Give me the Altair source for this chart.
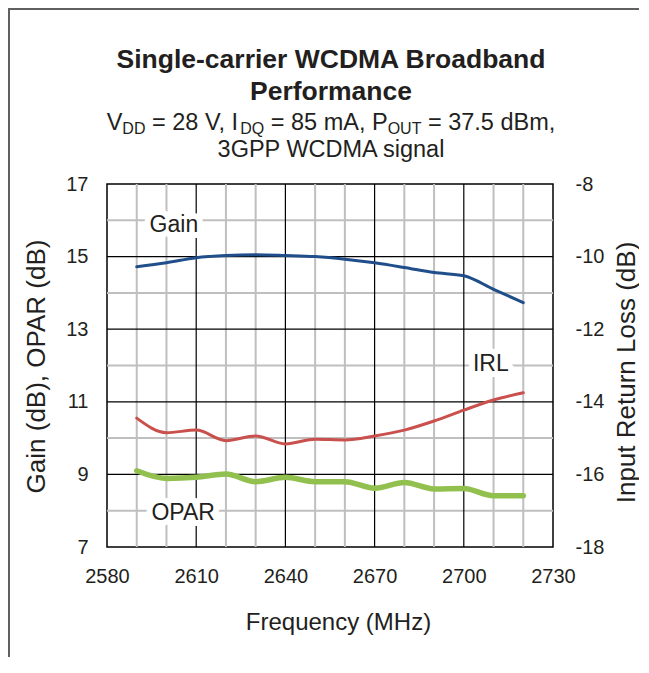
import altair as alt
import pandas as pd

# ---------------- data ----------------
freq = [2590, 2600, 2610, 2620, 2630, 2640, 2650, 2660, 2670, 2680, 2690, 2700, 2710, 2720]
gain = [14.72, 14.83, 14.97, 15.03, 15.05, 15.03, 15.00, 14.93, 14.83, 14.70, 14.56, 14.47, 14.10, 13.73]
opar = [9.10, 8.89, 8.92, 9.01, 8.80, 8.92, 8.80, 8.80, 8.62, 8.78, 8.60, 8.61, 8.41, 8.41]
irl = [-14.45, -14.85, -14.78, -15.07, -14.94, -15.16, -15.03, -15.05, -14.94, -14.78, -14.53, -14.23, -13.95, -13.75]

x_ticks = [2580, 2610, 2640, 2670, 2700, 2730]
x_major_grid = [2610, 2640, 2670, 2700]
x_minor_grid = [2590, 2600, 2620, 2630, 2650, 2660, 2680, 2690, 2710, 2720]
yl_ticks = [7, 9, 11, 13, 15, 17]
yl_major_grid = [9, 11, 13, 15]
yl_minor_grid = [8, 10, 12, 14, 16]
yr_ticks = [-18, -16, -14, -12, -10, -8]

label_text = ["Gain", "IRL", "OPAR"]
label_x = [2602.5, 2709.1, 2605.6]
label_y = [15.88, 12.04, 7.94]

title_lines = ["Single-carrier WCDMA Broadband", "Performance"]
subtitle_parts = [("V", False), ("DD", True), (" = 28 V, I", False), ("DQ", True),
                  (" = 85 mA, P", False), ("OUT", True), (" = 37.5 dBm,", False)]
subtitle_line2 = "3GPP WCDMA signal"

x_title = "Frequency (MHz)"
yl_title = "Gain (dB), OPAR (dB)"
yr_title = "Input Return Loss (dB)"

# ---------------- layout / style ----------------
W, H = 446, 363
PAD = {"left": 99, "top": 176, "right": 86, "bottom": 110}
FONT = "Liberation Sans"
INK = "#231f20"
GRAY = "#bfbfbf"
C_GAIN = "#1f4e8a"
C_IRL = "#c9504c"
C_OPAR = "#92c04e"

AW = {"V": 667, "D": 722, "Q": 778, "O": 778, "U": 722, "T": 611, "I": 278, "P": 667,
      " ": 278, "=": 584, ",": 278, ".": 278, "m": 833, "A": 667, "d": 556, "B": 667}


def text_w(s, size):
    return sum(AW.get(c, 556) for c in s) * size / 1000.0


x_scale = alt.Scale(domain=[2580, 2730], nice=False, zero=False)
yl_scale = alt.Scale(domain=[7, 17], nice=False, zero=False)
yr_scale = alt.Scale(domain=[-18, -8], nice=False, zero=False)

x_axis = alt.Axis(values=x_ticks, grid=False, ticks=False, domain=False,
                  labelFontSize=20, labelPadding=19, labelFlush=False, labelOverlap=False,
                  labelExpr="datum.value + ''",
                  title=x_title, titleFontSize=24, titleFontWeight="normal",
                  titleX=231, titleY=82, titleAlign="center", titleBaseline="alphabetic")
yl_axis = alt.Axis(values=yl_ticks, grid=False, ticks=False, domain=False,
                   labelFontSize=20, labelPadding=19, labelFlush=False, labelOverlap=False,
                   labelExpr="datum.value + ''",
                   title=yl_title, titleFontSize=26, titleFontWeight="normal", titleAngle=270,
                   titleX=-63, titleY=182, titleAlign="center", titleBaseline="alphabetic")
yr_axis = alt.Axis(orient="right", values=yr_ticks, grid=False, ticks=False, domain=False,
                   labelFontSize=20, labelPadding=22, labelAlign="left", labelFlush=False,
                   labelOverlap=False, labelExpr="datum.value + ''",
                   title=yr_title, titleFontSize=26, titleFontWeight="normal", titleAngle=270,
                   titleX=81, titleY=188, titleAlign="center", titleBaseline="alphabetic")

X = lambda f: alt.X(f, scale=x_scale, axis=x_axis)
YL = lambda f: alt.Y(f, scale=yl_scale, axis=yl_axis)
YR = lambda f: alt.Y(f, scale=yr_scale, axis=yr_axis)

one = alt.Data(values=[{"k": 0}])


def txt(s, x, y, size, weight="normal", align="left"):
    return alt.Chart(one).mark_text(text=s, fontSize=size, fontWeight=weight, align=align,
                                    baseline="alphabetic", font=FONT, color=INK).encode(
        x=alt.value(x), y=alt.value(y))


# ---------------- grid ----------------
vminor = alt.Chart(pd.DataFrame({"f": x_minor_grid})).mark_rule(color=GRAY, strokeWidth=2).encode(x=X("f:Q"))
hminor = alt.Chart(pd.DataFrame({"v": yl_minor_grid})).mark_rule(color=GRAY, strokeWidth=2).encode(y=YL("v:Q"))
vmajor = alt.Chart(pd.DataFrame({"f": x_major_grid})).mark_rule(color="#000000", strokeWidth=1.2).encode(x=X("f:Q"))
hmajor = alt.Chart(pd.DataFrame({"v": yl_major_grid})).mark_rule(color="#000000", strokeWidth=1.2).encode(y=YL("v:Q"))

# ---------------- labels with white halo ----------------
lab_df = pd.DataFrame({"lx": label_x, "ly": label_y, "lt": label_text})
halo = alt.Chart(lab_df).mark_text(fontSize=23, font=FONT, align="center", baseline="middle",
                                   fill="white", stroke="white", strokeWidth=12,
                                   strokeJoin="round").encode(x=X("lx:Q"), y=YL("ly:Q"), text="lt:N")
labels = alt.Chart(lab_df).mark_text(fontSize=23, font=FONT, align="center", baseline="middle",
                                     color=INK).encode(x=X("lx:Q"), y=YL("ly:Q"), text="lt:N")

# ---------------- series ----------------
df = pd.DataFrame({"freq": freq, "gain": gain, "opar": opar, "irl": irl})
gain_line = alt.Chart(df).mark_line(color=C_GAIN, strokeWidth=3, interpolate="monotone",
                                    strokeCap="round").encode(x=X("freq:Q"), y=YL("gain:Q"))
opar_line = alt.Chart(df).mark_line(color=C_OPAR, strokeWidth=5.5, interpolate="monotone",
                                    strokeCap="round").encode(x=X("freq:Q"), y=YL("opar:Q"))
irl_line = alt.Chart(df).mark_line(color=C_IRL, strokeWidth=3, interpolate="monotone",
                                   strokeCap="round").encode(x=X("freq:Q"), y=YR("irl:Q"))

# ---------------- titles ----------------
cx = W / 2 + 1
texts = [
    txt(title_lines[0], cx, -116, 26.5, "bold", "center"),
    txt(title_lines[1], cx, -84, 26.5, "bold", "center"),
    txt(subtitle_line2, cx, -27, 23.5, "normal", "center"),
]
MAIN, SUB = 23.5, 16
total = sum(text_w(s, SUB if sub else MAIN) for s, sub in subtitle_parts)
xpos = cx - total / 2
for s, sub in subtitle_parts:
    size = SUB if sub else MAIN
    lead = len(s) - len(s.lstrip(" "))
    body = s.strip(" ")
    texts.append(txt(body, xpos + text_w(" " * lead, size), -50 if sub else -54, size))
    xpos += text_w(s, size)

# ---------------- outer frame (thin filled strips) ----------------
frame_top = alt.Chart(one).mark_rect(color="#606060", strokeWidth=0).encode(
    x=alt.value(-99), x2=alt.value(W + PAD["right"]), y=alt.value(-176), y2=alt.value(-174))
frame_left = alt.Chart(one).mark_rect(color="#606060", strokeWidth=0).encode(
    x=alt.value(-99), x2=alt.value(-97), y=alt.value(-176), y2=alt.value(H + PAD["bottom"]))

left = alt.layer(vminor, hminor, vmajor, hmajor, halo, labels, gain_line, opar_line,
                 frame_top, frame_left, *texts)

chart = alt.layer(left, irl_line).resolve_scale(y="independent").properties(
    width=W, height=H, autosize=alt.AutoSizeParams(type="none"), padding=PAD
).configure_view(stroke="#000000", strokeWidth=1.5).configure_axis(
    labelFont=FONT, titleFont=FONT, labelColor=INK, titleColor=INK)

chart.save("out.html", embed_options={"renderer": "svg", "actions": False})
